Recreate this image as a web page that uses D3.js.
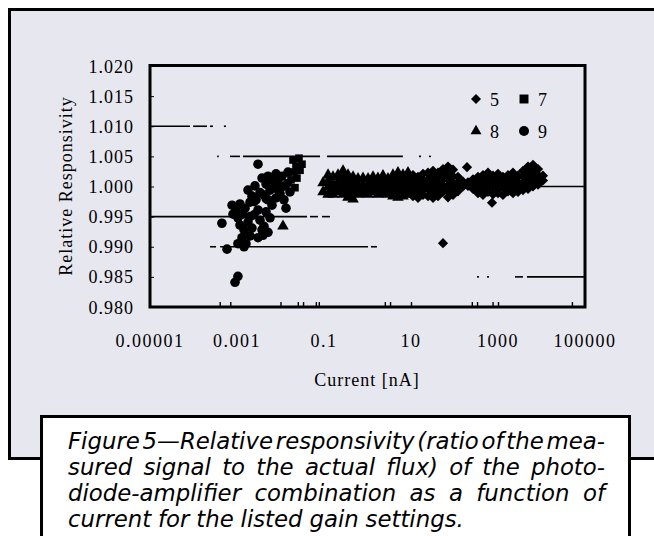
<!DOCTYPE html>
<html>
<head>
<meta charset="utf-8">
<script src="https://cdn.jsdelivr.net/npm/d3@7"></script>
<style>
body{margin:0;background:#fff;}
svg{display:block;}
</style>
</head>
<body>
<div id="container"></div>
<script>
var width = 654;
var height = 536;

// axis ticks
var yTicks = [0.980,0.985,0.990,0.995,1.000,1.005,1.010,1.015,1.020];
var xTicks = [0.00001,0.001,0.1,10,1000,100000];
var xTickLabels = ["0.00001","0.001","0.1","10","1000","100000"];

// gain settings in the legend
var legendKeys = ["5","7","8","9"];

// gain 9 (circles): lowest currents
var gain9 = [[0.00045,0.9939],[0.00059,0.9896],[0.00090,0.9841],[0.00105,0.9851],[0.00304,1.0037],
	[0.00077,0.9969],[0.00095,0.9961],[0.00117,0.9971],[0.00137,0.9954],[0.00105,0.9948],[0.00153,0.9964],[0.00081,0.9954],
	[0.00117,0.9936],[0.00145,0.9928],[0.00179,0.9941],[0.00130,0.9915],[0.00161,0.9905],[0.00199,0.9918],[0.00221,0.9931],[0.00145,0.9900],[0.00105,0.9905],
	[0.00179,0.9994],[0.00221,0.9984],[0.00259,1.0001],[0.00199,0.9974],[0.00274,0.9978],[0.00304,0.9961],[0.00246,0.9953],[0.00338,0.9944],[0.00376,0.9928],[0.00304,0.9915],[0.00418,0.9934],
	[0.00376,1.0014],[0.00465,1.0004],[0.00516,1.0017],[0.00638,1.0011],[0.00574,0.9994],[0.00418,0.9986],[0.00710,0.9998],[0.00789,1.0021],[0.00877,1.0007],[0.00516,0.9978],[0.00638,0.9969],[0.00789,0.9981],[0.00975,0.9988],
	[0.0108,1.0017],[0.0127,1.0001],[0.0149,1.0024],[0.0120,0.9978],[0.0165,0.9991],[0.0134,0.9964],[0.00465,0.9958],[0.00574,0.9948],[0.00396,0.9919],[0.00516,0.9924],
	[0.00338,0.9990],[0.00465,0.9980],[0.00710,1.0010],[0.00877,0.9995],[0.0108,1.0000],[0.00246,0.9975],[0.00199,0.9950]];

// gain 7 (squares)
var gain7 = [[0.0194,1.0044],[0.0227,1.0034],[0.0266,1.0047],[0.0204,1.0024],[0.0281,1.0027],
	[0.0239,1.0014],[0.0174,1.0011],[0.0312,1.0037],[0.0149,1.0006],[0.0215,0.9998]];

// gain 8 (triangles): current, responsivities read at that current
var gain8 = [[0.0114,[0.9934]],
	[0.095,[1.0006,0.9991]],
	[0.124,[1.0019,1.0009,0.9999,0.9987]],
	[0.161,[1.0016,1.0004,0.9996,0.9987]],
	[0.210,[1.0019,1.0007,0.9999,0.9991]],
	[0.274,[1.0026,1.0016,1.0006,0.9998,0.9987]],
	[0.356,[1.0019,1.0009,1.0001,0.9993,0.9982]],
	[0.465,[1.0016,1.0006,0.9996,0.9988,0.9979]],
	[0.605,[1.0013,1.0002,0.9996,0.9987]],
	[0.789,[1.0014,1.0004,0.9998,0.9989]],
	[1.03,[1.0013,1.0002,0.9994,0.9987]],
	[1.34,[1.0016,1.0006,0.9999,0.9991]],
	[1.74,[1.0014,1.0004,0.9996,0.9987]],
	[2.27,[1.0018,1.0007,0.9999,0.9989]],
	[2.96,[1.0013,1.0002,0.9996,0.9987]],
	[3.85,[1.0019,1.0009,1.0001,0.9993,0.9984]],
	[5.02,[1.0023,1.0012,1.0002,0.9994,0.9982]],
	[6.55,[1.0019,1.0009,1.0001,0.9993,0.9984]],
	[8.53,[1.0023,1.0012,1.0004,0.9996,0.9987]]];

// gain 5 (diamonds): highest currents
var gain5 = [[11.1,[1.0019,1.0009,1.0001,0.9993,0.9984]],
	[14.5,[1.0016,1.0006,0.9998,0.9989,0.9981]],
	[18.9,[1.0021,1.0011,1.0002,0.9994,0.9986]],
	[24.6,[1.0023,1.0012,1.0004,0.9996,0.9984]],
	[32.1,[1.0026,1.0016,1.0006,0.9998,0.9989,0.9981]],
	[41.8,[1.0023,1.0012,1.0004,0.9996,0.9984]],
	[54.4,[1.0029,1.0019,1.0011,1.0001,0.9991,0.9906]],
	[70.9,[1.0033,1.0022,1.0012,1.0002,0.9993,0.9982]],
	[92.5,[1.0028,1.0017,1.0007,0.9998,0.9986]],
	[120,[1.0016,1.0006,0.9999,0.9992]],
	[157,[1.0008,1.0000]],
	[194,[1.0032]],
	[204,[1.0007,1.0001]],
	[266,[1.0012,1.0002,0.9996]],
	[347,[1.0016,1.0006,0.9998,0.9989]],
	[452,[1.0019,1.0009,1.0001,0.9993,0.9986]],
	[589,[1.0023,1.0012,1.0004,0.9998,0.9991]],
	[728,[0.9973]],
	[767,[1.0018,1.0007,0.9999,0.9987]],
	[1000,[1.0021,1.0011,1.0002,0.9996,0.9989]],
	[1300,[1.0016,1.0006,0.9998,0.9986]],
	[1700,[1.0019,1.0009,1.0001,0.9992]],
	[2210,[1.0023,1.0012,1.0004,0.9996,0.9989]],
	[2880,[1.0018,1.0007,0.9999,0.9991]],
	[3760,[1.0026,1.0016,1.0007,0.9999,0.9994]],
	[4900,[1.0033,1.0022,1.0014,1.0006,0.9996]],
	[6380,[1.0036,1.0026,1.0017,1.0009,1.0000]],
	[8320,[1.0029,1.0019,1.0011,1.0003]],
	[10800,[1.0018,1.0010]]];

// what is left of the horizontal grid lines in the scan: [value, from current, to current]
var gridBits = [[1.010,0.00001,0.000083],[1.010,0.000098,0.000204],[1.010,0.000239,0.00028],[1.010,0.00050,0.00056],
	[1.005,0.00035,0.00038],[1.005,0.00069,0.00117],[1.005,0.00137,0.081],[1.005,0.117,6.5],[1.005,15.3,16.9],[1.005,25.9,28.7],
	[0.995,0.00001,0.0407],[0.995,0.0477,0.0728],[0.995,0.090,0.137],
	[0.990,0.00024,0.00033],[0.990,0.00041,1.03],[0.990,1.20,1.65],
	[1.000,9250,100000],
	[0.985,329,366],[0.985,558,621],[0.985,2460,3760],[0.985,4640,100000]];

// bits of minor x ticks that survive in the scan
var xMinorTicks = [0.0004,0.0007,0.01,0.025,0.033,0.065,0.076,2.5,3.3,10,250,330,750,1000,50000];

var caption = ["Figure 5\u2014Relative responsivity (ratio of the mea-",
	"sured signal to the actual flux) of the photo-",
	"diode-amplifier combination as a function of",
	"current for the listed gain settings."];

var svg = d3.select('div#container')
	.append('svg')
	.attr('width', width)
	.attr('height', height);

// panel behind the chart
svg.append('rect')
	.attr('x', 9.5).attr('y', 9.5)
	.attr('width', 700).attr('height', 449)
	.attr('fill', '#e7e7ef')
	.attr('stroke', '#000')
	.attr('stroke-width', 3);

var x = d3.scaleLog().domain([0.00001, 100000]).range([150, 585]);
var y = d3.scaleLinear().domain([0.980, 1.020]).range([307, 66]);

var serif = "'Liberation Serif', 'DejaVu Serif', serif";

var G = svg.append('g').attr('id', 'plot');

// grid remnants
G.selectAll('line.grid')
	.data(gridBits)
	.enter()
	.append('line')
	.attr('class', 'grid')
	.attr('x1', function(d){ return x(d[1]); })
	.attr('x2', function(d){ return x(d[2]); })
	.attr('y1', function(d){ return y(d[0]); })
	.attr('y2', function(d){ return y(d[0]); })
	.attr('stroke', '#000')
	.attr('stroke-width', 1.6);

// flatten column style series
function flat(rows){
	var out = [];
	rows.forEach(function(r){
		r[1].forEach(function(v){ out.push([r[0], v]); });
	});
	return out;
}

function drawSeries(data, type, size, rot){
	G.append('g').selectAll('path')
		.data(data)
		.enter()
		.append('path')
		.attr('d', d3.symbol().type(type).size(size))
		.attr('transform', function(d){
			return 'translate(' + x(d[0]) + ',' + y(d[1]) + ')' + (rot ? ' rotate(45)' : '');
		})
		.attr('fill', '#000');
}

drawSeries(gain9, d3.symbolCircle, 72, false);
drawSeries(gain7, d3.symbolSquare, 58, false);
drawSeries(flat(gain8), d3.symbolTriangle, 58, false);
drawSeries(flat(gain5), d3.symbolSquare, 52, true);

// axes, ticks pointing inwards
var yAxis = d3.axisRight(y).tickValues(yTicks).tickSize(4).tickFormat('');
G.append('g').attr('transform', 'translate(150,0)').call(yAxis)
	.call(function(g){ g.select('.domain').remove(); });

var xAxis = d3.axisTop(x).tickValues(xMinorTicks).tickSize(5).tickFormat('');
G.append('g').attr('transform', 'translate(0,307)').call(xAxis)
	.call(function(g){ g.select('.domain').remove(); g.selectAll('line').attr('stroke-width', 1.4); });

G.append('rect')
	.attr('x', 150).attr('y', 65.5)
	.attr('width', 435).attr('height', 241.5)
	.attr('fill', 'none')
	.attr('stroke', '#000')
	.attr('stroke-width', 3);

// tick labels
G.selectAll('text.ylab')
	.data(yTicks)
	.enter()
	.append('text')
	.attr('class', 'ylab')
	.attr('x', 134)
	.attr('y', function(d){ return y(d) + 6.5; })
	.attr('text-anchor', 'end')
	.style('font-family', serif)
	.style('font-size', '18px')
	.style('letter-spacing', '1px')
	.text(function(d){ return d3.format('.3f')(d); });

G.selectAll('text.xlab')
	.data(xTicks)
	.enter()
	.append('text')
	.attr('class', 'xlab')
	.attr('x', function(d){ return x(d); })
	.attr('y', 347)
	.attr('text-anchor', 'middle')
	.style('font-family', serif)
	.style('font-size', '18px')
	.style('letter-spacing', '1.5px')
	.text(function(d, i){ return xTickLabels[i]; });

G.append('text')
	.attr('x', 367)
	.attr('y', 386)
	.attr('text-anchor', 'middle')
	.style('font-family', serif)
	.style('font-size', '18px')
	.style('letter-spacing', '1px')
	.text('Current [nA]');

G.append('text')
	.attr('transform', 'translate(72,186) rotate(-90)')
	.attr('text-anchor', 'middle')
	.style('font-family', serif)
	.style('font-size', '18px')
	.style('letter-spacing', '1px')
	.text('Relative Responsivity');

// legend
var legendPos = [[476,99],[524,99],[476,131],[524,131]];
var legendSym = [
	{type: d3.symbolSquare, size: 50, rot: true},
	{type: d3.symbolSquare, size: 80, rot: false},
	{type: d3.symbolTriangle, size: 52, rot: false},
	{type: d3.symbolCircle, size: 78, rot: false}];
var L = G.append('g').attr('id', 'legend');
legendKeys.forEach(function(k, i){
	var p = legendPos[i];
	L.append('path')
		.attr('d', d3.symbol().type(legendSym[i].type).size(legendSym[i].size))
		.attr('transform', 'translate(' + p[0] + ',' + p[1] + ')' + (legendSym[i].rot ? ' rotate(45)' : ''))
		.attr('fill', '#000');
	L.append('text')
		.attr('x', p[0] + 14)
		.attr('y', p[1] + 6.5)
		.style('font-family', serif)
		.style('font-size', '18px')
		.text(k);
});

// caption box
svg.append('rect')
	.attr('x', 41.5).attr('y', 416.5)
	.attr('width', 588).attr('height', 130)
	.attr('fill', '#fff')
	.attr('stroke', '#000')
	.attr('stroke-width', 3);

var capLeft = 68, capRight = 605;
var C = svg.append('g').attr('id', 'caption')
	.style('font-family', "'DejaVu Sans', sans-serif")
	.style('font-style', 'italic')
	.style('font-size', '20px');

// size the font so the first (tightest) line just fits
var probe = caption[0].split(' ').map(function(w){ return C.append('text').text(w); });
var probeW = d3.sum(probe, function(n){ return n.node().getComputedTextLength(); });
probe.forEach(function(n){ n.remove(); });
var minGap = 0.12;
var capFont = 20 * (capRight - capLeft) / (probeW + minGap * 20 * (probe.length - 1));
C.style('font-size', capFont + 'px');

caption.forEach(function(line, li){
	var words = line.split(' ');
	var by = 449 + li * 26;
	var nodes = words.map(function(w){
		return C.append('text').attr('y', by).text(w);
	});
	var widths = nodes.map(function(n){ return n.node().getComputedTextLength(); });
	var total = d3.sum(widths);
	var gap = (li < caption.length - 1) ? (capRight - capLeft - total) / (words.length - 1) : capFont * 0.3;
	var cx = capLeft;
	nodes.forEach(function(n, i){
		n.attr('x', cx);
		cx += widths[i] + gap;
	});
});
</script>
</body>
</html>
